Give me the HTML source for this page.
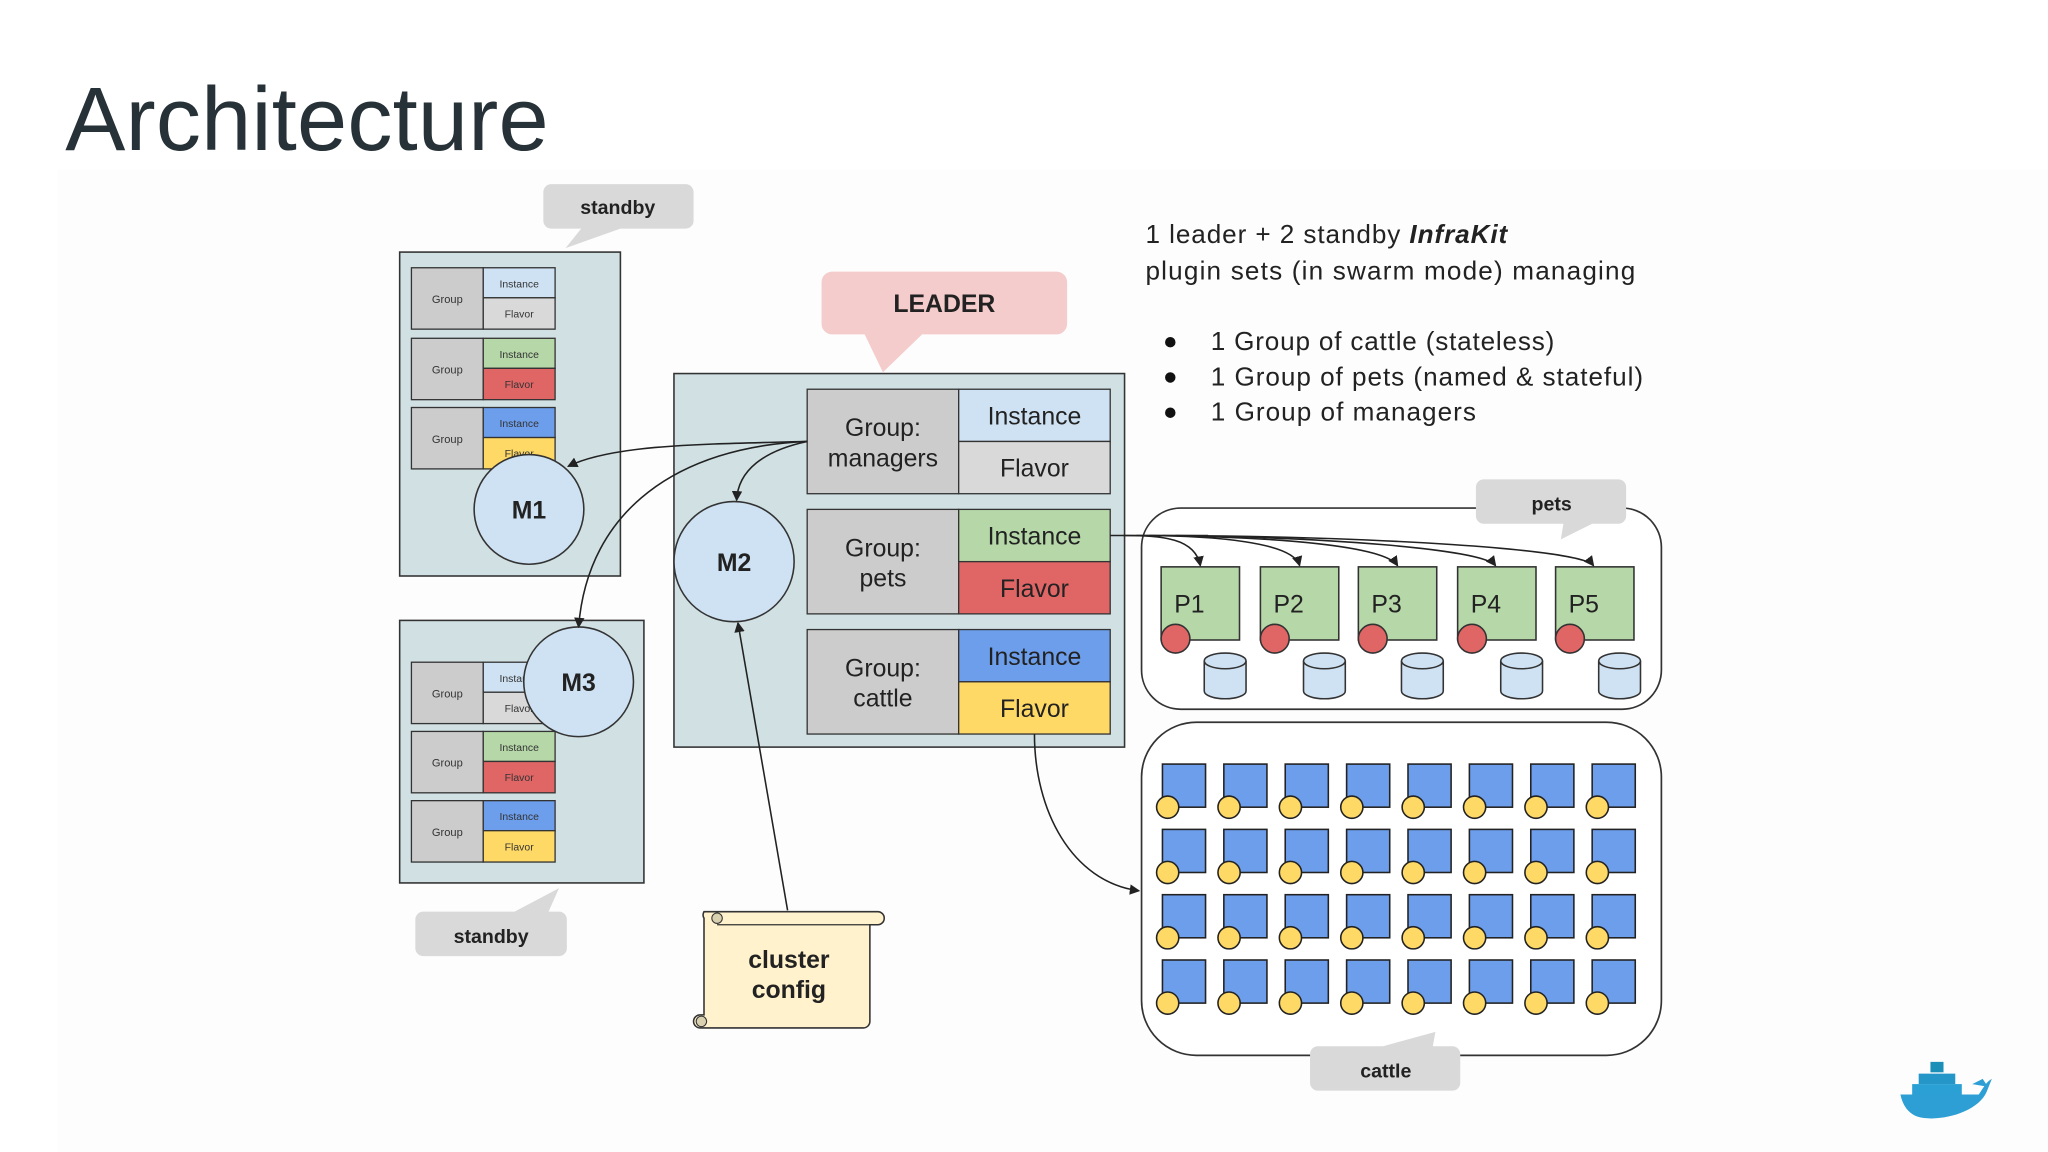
<!DOCTYPE html>
<html><head><meta charset="utf-8"><style>
html,body{margin:0;padding:0;background:#fff;}
svg{display:block;}
text{font-family:"Liberation Sans",sans-serif;}
</style></head><body>
<svg width="2048" height="1152" viewBox="0 0 1568 882" xmlns="http://www.w3.org/2000/svg">
<defs>
<marker id="ah" markerWidth="8" markerHeight="8" refX="7" refY="4" orient="auto" markerUnits="userSpaceOnUse"><path d="M0,0 L8,4 L0,8 z" fill="#222"/></marker>
<g id="cow"><rect x="0" y="0" width="33" height="33" fill="#6d9eeb" stroke="#222" stroke-width="1.2"/><circle cx="4" cy="33" r="8.5" fill="#ffd966" stroke="#222" stroke-width="1.2"/></g>
<g id="pet"><rect x="0" y="0" width="60" height="56" fill="#b6d7a8" stroke="#333" stroke-width="1.2"/><circle cx="11" cy="55" r="11" fill="#e06666" stroke="#333" stroke-width="1.2"/>
<path d="M33,72 v23 a16,6 0 0 0 32,0 v-23" fill="#cfe2f3" stroke="#333" stroke-width="1.2"/><ellipse cx="49" cy="72" rx="16" ry="6" fill="#cfe2f3" stroke="#333" stroke-width="1.2"/></g>
<g id="sg">
<rect x="0" y="0" width="55" height="47" fill="#cccccc" stroke="#333" stroke-width="1"/>
<text x="27.5" y="27" font-size="8.5" text-anchor="middle" fill="#333">Group</text>
</g>
</defs>
<rect x="0" y="0" width="1568" height="882" fill="#fff"/>
<rect x="44" y="130" width="1524" height="752" fill="#fdfdfd"/>
<text x="50" y="115" font-size="69" fill="#263238" textLength="370">Architecture</text>

<!-- right text -->
<text x="877" y="186" font-size="20" fill="#222" textLength="277">1 leader + 2 standby <tspan font-weight="bold" font-style="italic">InfraKit</tspan></text>
<text x="877" y="214" font-size="20" fill="#222" textLength="375">plugin sets (in swarm mode) managing</text>
<circle cx="896" cy="262" r="4" fill="#111"/><circle cx="896" cy="289" r="4" fill="#111"/><circle cx="896" cy="316" r="4" fill="#111"/>
<text x="927" y="268" font-size="20" fill="#222" textLength="263">1 Group of cattle (stateless)</text>
<text x="927" y="295" font-size="20" fill="#222" textLength="331">1 Group of pets (named &amp; stateful)</text>
<text x="927" y="322" font-size="20" fill="#222" textLength="203">1 Group of managers</text>

<!-- callouts -->
<path d="M422,141 h103 a6,6 0 0 1 6,6 v22 a6,6 0 0 1 -6,6 h-50 l-42,15 l12,-15 h-23 a6,6 0 0 1 -6,-6 v-22 a6,6 0 0 1 6,-6z" fill="#d9d9d9"/>
<text x="473" y="164" font-size="15" font-weight="bold" text-anchor="middle" fill="#222">standby</text>
<path d="M637,208 h172 a8,8 0 0 1 8,8 v32 a8,8 0 0 1 -8,8 h-103 l-30,29 l-14,-29 h-25 a8,8 0 0 1 -8,-8 v-32 a8,8 0 0 1 8,-8z" fill="#f4cccc"/>
<text x="723" y="239" font-size="19" font-weight="bold" text-anchor="middle" fill="#222">LEADER</text>
<path d="M324,698 h70 l34,-18 l-8,18 h8 a6,6 0 0 1 6,6 v22 a6,6 0 0 1 -6,6 h-104 a6,6 0 0 1 -6,-6 v-22 a6,6 0 0 1 6,-6z" fill="#d9d9d9"/>
<text x="376" y="722" font-size="15" font-weight="bold" text-anchor="middle" fill="#222">standby</text>

<!-- standby top -->
<rect x="306" y="193" width="169" height="248" fill="#d0e0e3" stroke="#333" stroke-width="1.2"/>
<g transform="translate(315,205)"><use href="#sg"/><rect x="55" y="0" width="55" height="23" fill="#cfe2f3" stroke="#333"/><rect x="55" y="23" width="55" height="24" fill="#d9d9d9" stroke="#333"/><text x="82.5" y="15" font-size="8" text-anchor="middle" fill="#333">Instance</text><text x="82.5" y="38" font-size="8" text-anchor="middle" fill="#333">Flavor</text></g>
<g transform="translate(315,259)"><use href="#sg"/><rect x="55" y="0" width="55" height="23" fill="#b6d7a8" stroke="#333"/><rect x="55" y="23" width="55" height="24" fill="#e06666" stroke="#333"/><text x="82.5" y="15" font-size="8" text-anchor="middle" fill="#333">Instance</text><text x="82.5" y="38" font-size="8" text-anchor="middle" fill="#333">Flavor</text></g>
<g transform="translate(315,312)"><use href="#sg"/><rect x="55" y="0" width="55" height="23" fill="#6d9eeb" stroke="#333"/><rect x="55" y="23" width="55" height="24" fill="#ffd966" stroke="#333"/><text x="82.5" y="15" font-size="8" text-anchor="middle" fill="#333">Instance</text><text x="82.5" y="38" font-size="8" text-anchor="middle" fill="#333">Flavor</text></g>
<circle cx="405" cy="390" r="42" fill="#cfe2f3" stroke="#333" stroke-width="1.2"/>
<text x="405" y="397" font-size="19" font-weight="bold" text-anchor="middle" fill="#222">M1</text>

<!-- standby bottom -->
<rect x="306" y="475" width="187" height="201" fill="#d0e0e3" stroke="#333" stroke-width="1.2"/>
<g transform="translate(315,507)"><use href="#sg"/><rect x="55" y="0" width="55" height="23" fill="#cfe2f3" stroke="#333"/><rect x="55" y="23" width="55" height="24" fill="#d9d9d9" stroke="#333"/><text x="82.5" y="15" font-size="8" text-anchor="middle" fill="#333">Instance</text><text x="82.5" y="38" font-size="8" text-anchor="middle" fill="#333">Flavor</text></g>
<g transform="translate(315,560)"><use href="#sg"/><rect x="55" y="0" width="55" height="23" fill="#b6d7a8" stroke="#333"/><rect x="55" y="23" width="55" height="24" fill="#e06666" stroke="#333"/><text x="82.5" y="15" font-size="8" text-anchor="middle" fill="#333">Instance</text><text x="82.5" y="38" font-size="8" text-anchor="middle" fill="#333">Flavor</text></g>
<g transform="translate(315,613)"><use href="#sg"/><rect x="55" y="0" width="55" height="23" fill="#6d9eeb" stroke="#333"/><rect x="55" y="23" width="55" height="24" fill="#ffd966" stroke="#333"/><text x="82.5" y="15" font-size="8" text-anchor="middle" fill="#333">Instance</text><text x="82.5" y="38" font-size="8" text-anchor="middle" fill="#333">Flavor</text></g>
<circle cx="443" cy="522" r="42" fill="#cfe2f3" stroke="#333" stroke-width="1.2"/>
<text x="443" y="529" font-size="19" font-weight="bold" text-anchor="middle" fill="#222">M3</text>

<!-- leader -->
<rect x="516" y="286" width="345" height="286" fill="#d0e0e3" stroke="#333" stroke-width="1.2"/>
<g font-size="19" text-anchor="middle" fill="#222">
<rect x="618" y="298" width="116" height="80" fill="#cccccc" stroke="#333"/>
<rect x="734" y="298" width="116" height="40" fill="#cfe2f3" stroke="#333"/><rect x="734" y="338" width="116" height="40" fill="#d9d9d9" stroke="#333"/>
<text x="676" y="334">Group:</text><text x="676" y="357">managers</text><text x="792" y="325">Instance</text><text x="792" y="365">Flavor</text>
<rect x="618" y="390" width="116" height="80" fill="#cccccc" stroke="#333"/>
<rect x="734" y="390" width="116" height="40" fill="#b6d7a8" stroke="#333"/><rect x="734" y="430" width="116" height="40" fill="#e06666" stroke="#333"/>
<text x="676" y="426">Group:</text><text x="676" y="449">pets</text><text x="792" y="417">Instance</text><text x="792" y="457">Flavor</text>
<rect x="618" y="482" width="116" height="80" fill="#cccccc" stroke="#333"/>
<rect x="734" y="482" width="116" height="40" fill="#6d9eeb" stroke="#333"/><rect x="734" y="522" width="116" height="40" fill="#ffd966" stroke="#333"/>
<text x="676" y="518">Group:</text><text x="676" y="541">cattle</text><text x="792" y="509">Instance</text><text x="792" y="549">Flavor</text>
</g>
<circle cx="562" cy="430" r="46" fill="#cfe2f3" stroke="#333" stroke-width="1.2"/>
<text x="562" y="437" font-size="19" font-weight="bold" text-anchor="middle" fill="#222">M2</text>

<!-- pets box -->
<rect x="874" y="389" width="398" height="154" rx="30" fill="#fff" stroke="#333" stroke-width="1.3"/>
<use href="#pet" x="889" y="434"/><use href="#pet" x="965" y="434"/><use href="#pet" x="1040" y="434"/><use href="#pet" x="1116" y="434"/><use href="#pet" x="1191" y="434"/>
<g font-size="19" fill="#222"><text x="899" y="469">P1</text><text x="975" y="469">P2</text><text x="1050" y="469">P3</text><text x="1126" y="469">P4</text><text x="1201" y="469">P5</text></g>
<path d="M1136,367 h103 a6,6 0 0 1 6,6 v22 a6,6 0 0 1 -6,6 h-20 l-24,12 l2,-12 h-61 a6,6 0 0 1 -6,-6 v-22 a6,6 0 0 1 6,-6z" fill="#d9d9d9"/>
<text x="1188" y="391" font-size="15" font-weight="bold" text-anchor="middle" fill="#222">pets</text>

<!-- cattle box -->
<rect x="874" y="553" width="398" height="255" rx="42" fill="#fff" stroke="#333" stroke-width="1.3"/>
<g>
<use href="#cow" x="890" y="585"/><use href="#cow" x="937" y="585"/><use href="#cow" x="984" y="585"/><use href="#cow" x="1031" y="585"/><use href="#cow" x="1078" y="585"/><use href="#cow" x="1125" y="585"/><use href="#cow" x="1172" y="585"/><use href="#cow" x="1219" y="585"/>
<use href="#cow" x="890" y="635"/><use href="#cow" x="937" y="635"/><use href="#cow" x="984" y="635"/><use href="#cow" x="1031" y="635"/><use href="#cow" x="1078" y="635"/><use href="#cow" x="1125" y="635"/><use href="#cow" x="1172" y="635"/><use href="#cow" x="1219" y="635"/>
<use href="#cow" x="890" y="685"/><use href="#cow" x="937" y="685"/><use href="#cow" x="984" y="685"/><use href="#cow" x="1031" y="685"/><use href="#cow" x="1078" y="685"/><use href="#cow" x="1125" y="685"/><use href="#cow" x="1172" y="685"/><use href="#cow" x="1219" y="685"/>
<use href="#cow" x="890" y="735"/><use href="#cow" x="937" y="735"/><use href="#cow" x="984" y="735"/><use href="#cow" x="1031" y="735"/><use href="#cow" x="1078" y="735"/><use href="#cow" x="1125" y="735"/><use href="#cow" x="1172" y="735"/><use href="#cow" x="1219" y="735"/>
</g>
<path d="M1009,801 h50 l40,-11 l-2,11 h15 a6,6 0 0 1 6,6 v22 a6,6 0 0 1 -6,6 h-103 a6,6 0 0 1 -6,-6 v-22 a6,6 0 0 1 6,-6z" fill="#d9d9d9"/>
<text x="1061" y="825" font-size="15" font-weight="bold" text-anchor="middle" fill="#222">cattle</text>

<!-- cluster config scroll -->
<path d="M550,698 h122 a5,5 0 0 1 0,10 h-6 v74 a5,5 0 0 1 -5,5 h-125 a5,5 0 0 1 0,-10 h3 v-74 a5,5 0 0 1 0,-5z" fill="#fff2cc" stroke="#333" stroke-width="1.2"/>
<circle cx="549" cy="703" r="4" fill="#d9d0b0" stroke="#333" stroke-width="0.8"/>
<circle cx="537" cy="782" r="4" fill="#d9d0b0" stroke="#333" stroke-width="0.8"/>
<line x1="549" y1="708" x2="672" y2="708" stroke="#333" stroke-width="1"/>
<text x="604" y="741" font-size="19" font-weight="bold" text-anchor="middle" fill="#222">cluster</text>
<text x="604" y="764" font-size="19" font-weight="bold" text-anchor="middle" fill="#222">config</text>

<!-- connectors -->
<g fill="none" stroke="#222" stroke-width="1.2">
<path d="M618,338 C540,340 470,340 435,357" marker-end="url(#ah)"/>
<path d="M618,338 C520,342 450,390 443,480" marker-end="url(#ah)"/>
<path d="M618,338 C585,345 565,360 564,383" marker-end="url(#ah)"/>
<path d="M603,697 L565,477" marker-end="url(#ah)"/>
<path d="M792,562 C792,620 820,675 872,682" marker-end="url(#ah)"/>
<path d="M850,410 L925,410"/>
<path d="M860,410 C890,410 915,412 919,433" marker-end="url(#ah)"/>
<path d="M870,410 C930,410 990,415 995,433" marker-end="url(#ah)"/>
<path d="M880,410 C980,411 1060,418 1070,433" marker-end="url(#ah)"/>
<path d="M890,410 C1010,411 1135,420 1145,433" marker-end="url(#ah)"/>
<path d="M900,410 C1050,411 1210,420 1220,433" marker-end="url(#ah)"/>
</g>

<!-- docker whale -->
<g>
<rect x="1478" y="813" width="10" height="8" fill="#1b8fb8"/>
<rect x="1469" y="822" width="28" height="8" fill="#2496c8"/>
<rect x="1464" y="830" width="38" height="8" fill="#2aa0d4"/>
<path d="M1455,838 h60 c4,-6 6,-10 10,-12 l-4,10 c-6,14 -30,22 -48,20 c-10,-1 -16,-8 -18,-18z" fill="#2d9fd4"/>
<path d="M1510,830 l8,-4 l4,6z" fill="#2d9fd4"/>
</g>
</svg>
</body></html>
